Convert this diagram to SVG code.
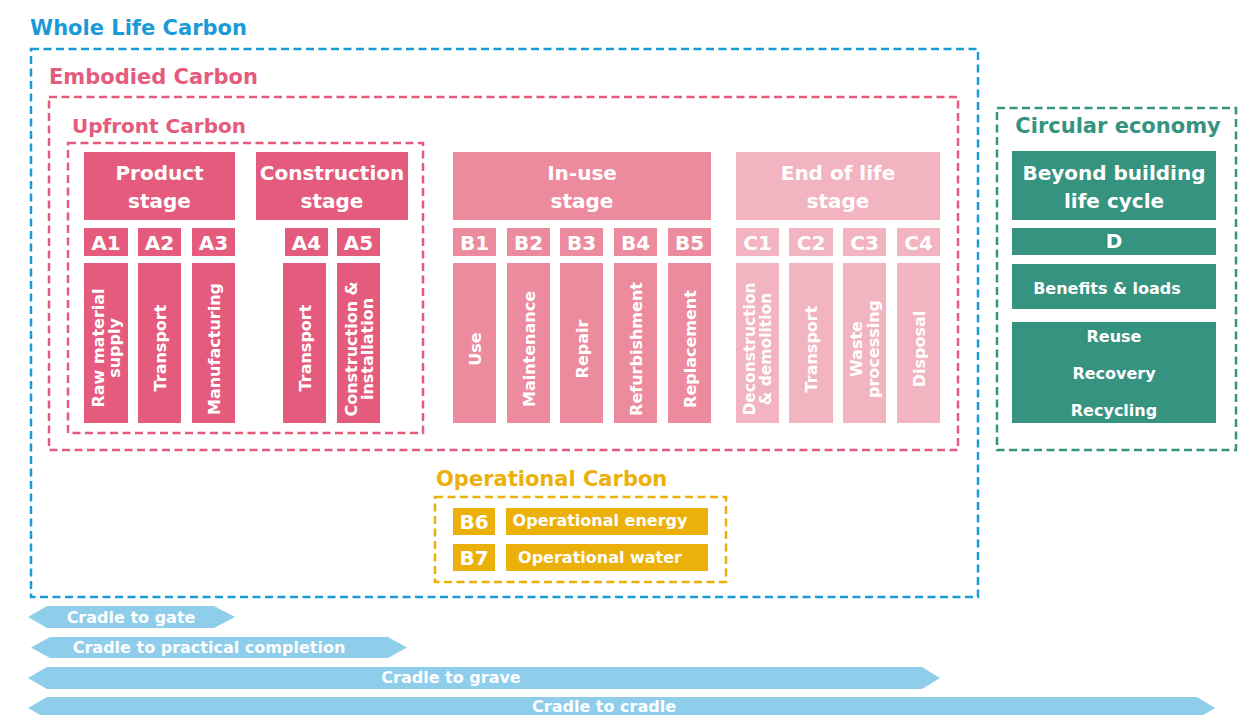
<svg xmlns="http://www.w3.org/2000/svg" width="1245" height="715" viewBox="0 0 1245 715">
<style>
text{font-family:"DejaVu Sans","Liberation Sans",sans-serif;font-weight:bold;}
.w{fill:#ffffff;text-anchor:middle;}
.h{font-size:20px;}
.s{font-size:16px;}
.v{font-size:16px;dominant-baseline:central;}
.dash{fill:none;stroke-width:2.5;stroke-dasharray:8 4.5;}
.pk{fill:#E55B7D;}
.iu{fill:#EC8A9E;}
.eo{fill:#F2B4C0;}
.tl{fill:#36937F;}
.yl{fill:#ECB00A;}
.ar{fill:#8ECEEB;}
.title{font-size:21px;}
</style>

<g id="whole-life">
<text x="30" y="35" class="title" fill="#1A9BD7">Whole Life Carbon</text>
<rect x="31" y="49" width="947" height="548" class="dash" stroke="#1A9BD7"/>
</g>

<g id="embodied">
<text x="49" y="84" class="title" fill="#E55B7D">Embodied Carbon</text>
<rect x="49" y="97" width="909" height="353" class="dash" stroke="#E55B7D"/>
</g>

<g id="upfront">
<text x="72" y="133" class="title" style="font-size:20px" fill="#E55B7D">Upfront Carbon</text>
<rect x="68" y="143" width="355" height="290" class="dash" stroke="#E55B7D"/>
</g>

<g id="product-stage">
<rect x="84" y="152" width="151" height="68" class="pk"/>
<text x="159.5" y="180" class="w h">Product</text>
<text x="159.5" y="208" class="w h">stage</text>
</g>
<g id="construction-stage">
<rect x="256" y="152" width="152" height="68" class="pk"/>
<text x="332" y="180" class="w h">Construction</text>
<text x="332" y="208" class="w h">stage</text>
</g>

<g id="A1">
<rect x="84" y="228" width="44" height="28" class="pk"/>
<text x="106" y="250" class="w h">A1</text>
<rect x="84" y="263" width="44" height="160" class="pk"/>
<text transform="translate(98,348) rotate(-90)" class="w v">Raw material</text>
<text transform="translate(114,348) rotate(-90)" class="w v">supply</text>
</g>
<g id="A2">
<rect x="138" y="228" width="43" height="28" class="pk"/>
<text x="159.5" y="250" class="w h">A2</text>
<rect x="138" y="263" width="43" height="160" class="pk"/>
<text transform="translate(160,348) rotate(-90)" class="w v">Transport</text>
</g>
<g id="A3">
<rect x="192" y="228" width="43" height="28" class="pk"/>
<text x="213.5" y="250" class="w h">A3</text>
<rect x="192" y="263" width="43" height="160" class="pk"/>
<text transform="translate(214,349) rotate(-90)" class="w v">Manufacturing</text>
</g>
<g id="A4">
<rect x="285" y="228" width="43" height="28" class="pk"/>
<text x="306.5" y="250" class="w h">A4</text>
<rect x="283" y="263" width="43" height="160" class="pk"/>
<text transform="translate(305,348) rotate(-90)" class="w v">Transport</text>
</g>
<g id="A5">
<rect x="337" y="228" width="43" height="28" class="pk"/>
<text x="358.5" y="250" class="w h">A5</text>
<rect x="337" y="263" width="43" height="160" class="pk"/>
<text transform="translate(351,349) rotate(-90)" class="w v">Construction &amp;</text>
<text transform="translate(367,349) rotate(-90)" class="w v">installation</text>
</g>

<g id="in-use-stage">
<rect x="453" y="152" width="258" height="68" class="iu"/>
<text x="582" y="180" class="w h">In-use</text>
<text x="582" y="208" class="w h">stage</text>
</g>
<g id="B1">
<rect x="453" y="228" width="43" height="28" class="iu"/>
<text x="474.5" y="250" class="w h">B1</text>
<rect x="453" y="263" width="43" height="160" class="iu"/>
<text transform="translate(475,349) rotate(-90)" class="w v">Use</text>
</g>
<g id="B2">
<rect x="507" y="228" width="43" height="28" class="iu"/>
<text x="528.5" y="250" class="w h">B2</text>
<rect x="507" y="263" width="43" height="160" class="iu"/>
<text transform="translate(529,349) rotate(-90)" class="w v">Maintenance</text>
</g>
<g id="B3">
<rect x="560" y="228" width="43" height="28" class="iu"/>
<text x="581.5" y="250" class="w h">B3</text>
<rect x="560" y="263" width="43" height="160" class="iu"/>
<text transform="translate(582,349) rotate(-90)" class="w v">Repair</text>
</g>
<g id="B4">
<rect x="614" y="228" width="43" height="28" class="iu"/>
<text x="635.5" y="250" class="w h">B4</text>
<rect x="614" y="263" width="43" height="160" class="iu"/>
<text transform="translate(636,349) rotate(-90)" class="w v">Refurbishment</text>
</g>
<g id="B5">
<rect x="668" y="228" width="43" height="28" class="iu"/>
<text x="689.5" y="250" class="w h">B5</text>
<rect x="668" y="263" width="43" height="160" class="iu"/>
<text transform="translate(690,349) rotate(-90)" class="w v">Replacement</text>
</g>

<g id="end-of-life-stage">
<rect x="736" y="152" width="204" height="68" class="eo"/>
<text x="838" y="180" class="w h">End of life</text>
<text x="838" y="208" class="w h">stage</text>
</g>
<g id="C1">
<rect x="736" y="228" width="43" height="28" class="eo"/>
<text x="757.5" y="250" class="w h">C1</text>
<rect x="736" y="263" width="43" height="160" class="eo"/>
<text transform="translate(750,349) rotate(-90)" class="w v" style="font-size:15.5px">Deconstruction</text>
<text transform="translate(766,349) rotate(-90)" class="w v" style="font-size:15.5px">&amp; demolition</text>
</g>
<g id="C2">
<rect x="789" y="228" width="44" height="28" class="eo"/>
<text x="811" y="250" class="w h">C2</text>
<rect x="789" y="263" width="44" height="160" class="eo"/>
<text transform="translate(811,349) rotate(-90)" class="w v">Transport</text>
</g>
<g id="C3">
<rect x="843" y="228" width="43" height="28" class="eo"/>
<text x="864.5" y="250" class="w h">C3</text>
<rect x="843" y="263" width="43" height="160" class="eo"/>
<text transform="translate(856,349) rotate(-90)" class="w v">Waste</text>
<text transform="translate(873,349) rotate(-90)" class="w v">processing</text>
</g>
<g id="C4">
<rect x="897" y="228" width="43" height="28" class="eo"/>
<text x="918.5" y="250" class="w h">C4</text>
<rect x="897" y="263" width="43" height="160" class="eo"/>
<text transform="translate(919,349) rotate(-90)" class="w v">Disposal</text>
</g>

<g id="circular-economy">
<text x="1118" y="133" class="title" fill="#36937F" text-anchor="middle">Circular economy</text>
<rect x="997" y="108" width="239" height="342" class="dash" stroke="#36937F"/>
</g>
<g id="beyond">
<rect x="1012" y="151" width="204" height="69" class="tl"/>
<text x="1114" y="180" class="w h">Beyond building</text>
<text x="1114" y="208" class="w h">life cycle</text>
</g>
<g id="D">
<rect x="1012" y="228" width="204" height="27" class="tl"/>
<text x="1114" y="248" class="w h">D</text>
</g>
<g id="benefits">
<rect x="1012" y="264" width="204" height="45" class="tl"/>
<text x="1107" y="294" class="w s">Benefits &amp; loads</text>
</g>
<g id="reuse-recovery-recycling">
<rect x="1012" y="322" width="204" height="101" class="tl"/>
<text x="1114" y="342" class="w s">Reuse</text>
<text x="1114" y="379" class="w s">Recovery</text>
<text x="1114" y="416" class="w s">Recycling</text>
</g>

<g id="operational-carbon">
<text x="436" y="486" class="title" fill="#ECB00A">Operational Carbon</text>
<rect x="435" y="497" width="291" height="85" class="dash" stroke="#ECB00A"/>
</g>
<g id="B6">
<rect x="453" y="508" width="42" height="27" class="yl"/>
<text x="474" y="529" class="w h">B6</text>
<rect x="506" y="508" width="202" height="27" class="yl"/>
<text x="600" y="526" class="w s">Operational energy</text>
</g>
<g id="B7">
<rect x="453" y="544" width="42" height="27" class="yl"/>
<text x="474" y="565" class="w h">B7</text>
<rect x="506" y="544" width="202" height="27" class="yl"/>
<text x="600" y="563" class="w s">Operational water</text>
</g>

<g id="connectors">
<polygon points="28,617 47,606 214,606 235,617 214,628 47,628" class="ar"/>
<polygon points="31,647.5 50,637 388,637 407,647.5 388,658 50,658" class="ar"/>
<polygon points="28,678 47,667 922,667 940,678 922,689 47,689" class="ar"/>
<polygon points="28,708 47,697 1197,697 1215,708 1197,719 47,719" class="ar"/>
<text x="131" y="623" class="w s">Cradle to gate</text>
<text x="209" y="653" class="w s">Cradle to practical completion</text>
<text x="451" y="683" class="w s">Cradle to grave</text>
<text x="604" y="712" class="w s">Cradle to cradle</text>
</g>
</svg>
